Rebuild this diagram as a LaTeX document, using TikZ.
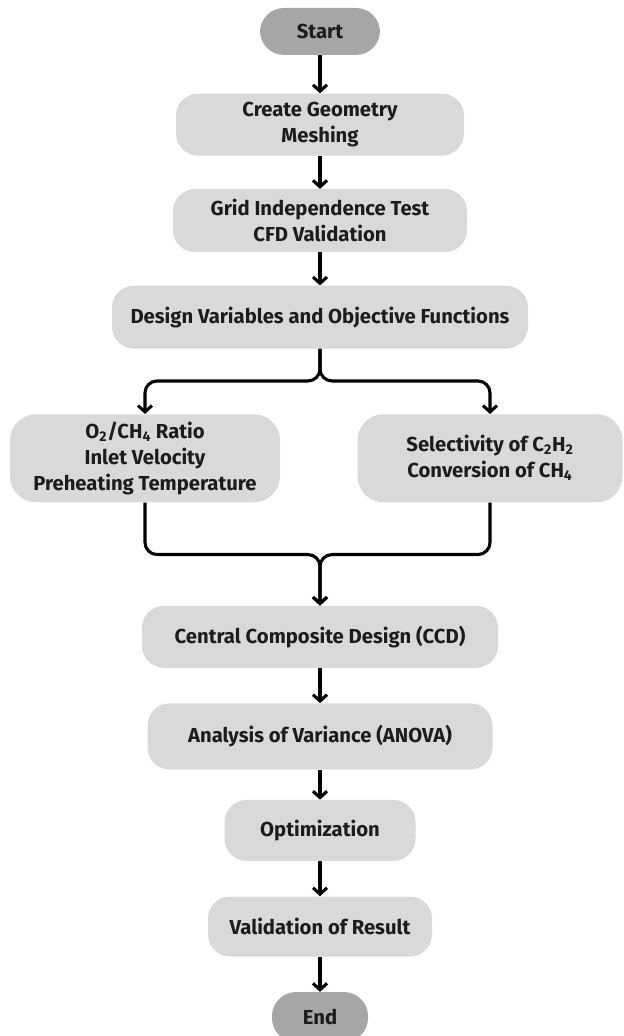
\documentclass[tikz,border=0pt]{standalone}
\usepackage{fontspec}
\setmainfont{Fira Sans}
\usetikzlibrary{positioning,arrows.meta,calc}
\definecolor{boxgray}{HTML}{D9D9D9}
\definecolor{termgray}{HTML}{A6A6A6}
\definecolor{inkgray}{HTML}{1C1C1C}

\begin{document}
\begin{tikzpicture}[font=\fontsize{14.4}{18.5}\selectfont\bfseries, node distance=0.85cm, text=inkgray]
  \tikzstyle{box}=[fill=boxgray,rounded corners=0.55cm,align=center,minimum height=1.55cm]
  \tikzstyle{term}=[fill=termgray,rounded corners=0.6cm,minimum width=3cm,minimum height=1.175cm]
  \tikzstyle{link}=[line width=2.2pt,rounded corners=0.3cm,-{Straight Barb[length=4.5pt,width=10pt]}]
  \useasboundingbox (0,0) rectangle (15.6,-25.9);
  % main column
  \node[term] (start) at (8,-0.7875) {Start};
  \node[box,minimum width=7.2cm] (geom) [below=0.95cm of start] {Create Geometry\\Meshing};
  \node[box,minimum width=7.35cm,minimum height=1.575cm] (grid) [below=0.825cm of geom] {Grid Independence Test\\CFD Validation};
  \node[box,minimum width=10.4cm,minimum height=1.575cm] (design) [below=0.825cm of grid] {Design Variables and Objective Functions};
  % the two branches
  \node[box,minimum width=6.75cm,minimum height=2.2cm,rounded corners=0.65cm] (params) [below=1.625cm of design,xshift=-4.375cm] {O\textsubscript{2}/CH\textsubscript{4} Ratio\\Inlet Velocity\\Preheating Temperature};
  \node[box,minimum width=6.625cm,minimum height=2.2cm,rounded corners=0.65cm] (objs) [below=1.625cm of design,xshift=4.25cm] {Selectivity of C\textsubscript{2}H\textsubscript{2}\\Conversion of CH\textsubscript{4}};
  \coordinate (fork) at ($(design.south)+(0,-0.8)$);
  \coordinate (join) at ($(params.south -| design)+(0,-1.3)$);
  % lower column
  \node[box,minimum width=8.9cm] (ccd) [below=1.275cm of join] {Central Composite Design (CCD)};
  \node[box,minimum width=8.625cm,minimum height=1.65cm] (anova) [below=0.875cm of ccd] {Analysis of Variance (ANOVA)};
  \node[box,minimum width=4.775cm,minimum height=1.525cm] (opt) [below=0.75cm of anova] {Optimization};
  \node[box,minimum width=5.6cm,minimum height=1.5cm] (valid) [below=0.875cm of opt] {Validation of Result};
  \node[term,minimum width=2.4cm,minimum height=1.25cm] (end) [below=0.875cm of valid] {End};
  \draw[link] (start) -- (geom);
  \draw[link] (geom) -- (grid);
  \draw[link] (grid) -- (design);
  \draw[link] (design.south) -- (fork) -| (params.north);
  \draw[link] (design.south) -- (fork) -| (objs.north);
  \draw[link] (params.south) |- (join) -- (ccd.north);
  \draw[link] (objs.south) |- (join) -- (ccd.north);
  \draw[link] (ccd) -- (anova);
  \draw[link] (anova) -- (opt);
  \draw[link] (opt) -- (valid);
  \draw[link] (valid) -- (end);
\end{tikzpicture}
\end{document}
